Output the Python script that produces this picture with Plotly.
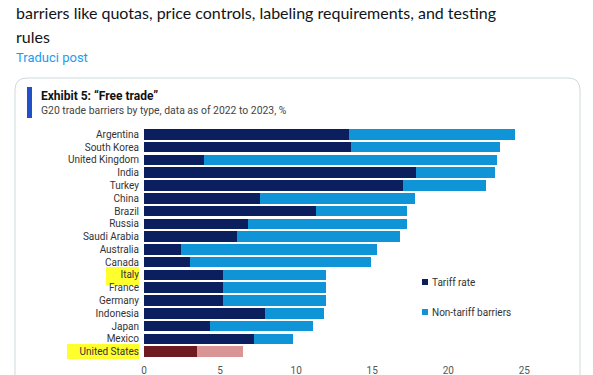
import plotly.graph_objects as go

countries = ["Argentina", "South Korea", "United Kingdom", "India", "Turkey", "China", "Brazil",
             "Russia", "Saudi Arabia", "Australia", "Canada", "Italy", "France", "Germany",
             "Indonesia", "Japan", "Mexico", "United States"]
tariff_rate = [13.5, 13.6, 3.95, 17.9, 17.0, 7.6, 11.3, 6.85, 6.1, 2.4, 3.0, 5.2, 5.2, 5.2, 7.95, 4.35, 7.2, 3.5]
total_barriers = [24.4, 23.4, 23.2, 23.1, 22.5, 17.8, 17.3, 17.3, 16.8, 15.3, 14.9, 11.95, 11.95, 11.95, 11.8, 11.1, 9.8, 6.5]
non_tariff = [round(t - r, 2) for t, r in zip(total_barriers, tariff_rate)]
x_ticks = [0, 5, 10, 15, 20, 25]
legend_labels = ["Tariff rate", "Non-tariff barriers"]

W, H = 593, 375
L, R, T, B = 144, 23, 128, 17
PW, PH = W - L - R, H - T - B

def px(x):
    return (x - L) / PW

def py(y):
    return 1 - (y - T) / PH

NAVY, BLUE = "#0b1f5e", "#0f94d8"
tariff_colors = [NAVY] * len(countries)
nontariff_colors = [BLUE] * len(countries)
tariff_colors[-1] = "#6e1b1f"
nontariff_colors[-1] = "#d99596"

fig = go.Figure()
fig.add_trace(go.Bar(y=countries, x=tariff_rate, orientation="h", name=legend_labels[0],
                     marker=dict(color=tariff_colors, line=dict(width=0)), showlegend=False))
fig.add_trace(go.Bar(y=countries, x=non_tariff, orientation="h", name=legend_labels[1],
                     marker=dict(color=nontariff_colors, line=dict(width=0)), showlegend=False))

cfont = "Roboto, sans-serif"
shapes = []
r = 12
x0, x1, y0, y1 = 15, 580, 78, 380
path = (f"M {px(x0)},{py(y1)} L {px(x0)},{py(y0 + r)} Q {px(x0)},{py(y0)} {px(x0 + r)},{py(y0)} "
        f"L {px(x1 - r)},{py(y0)} Q {px(x1)},{py(y0)} {px(x1)},{py(y0 + r)} L {px(x1)},{py(y1)}")
shapes.append(dict(type="path", xref="paper", yref="paper", path=path,
                   line=dict(color="#cfd9de", width=1), layer="below"))
shapes.append(dict(type="rect", xref="paper", yref="paper", x0=px(27), x1=px(32), y0=py(118), y1=py(87),
                   fillcolor="#2150c8", line=dict(width=0)))
shapes.append(dict(type="rect", xref="paper", yref="paper", x0=px(106), x1=px(139), y0=py(285), y1=py(267),
                   fillcolor="#ffff2e", line=dict(width=0), layer="below"))
shapes.append(dict(type="rect", xref="paper", yref="paper", x0=px(67), x1=px(139), y0=py(359), y1=py(344),
                   fillcolor="#ffff2e", line=dict(width=0), layer="below"))

def ann(text, x, y, size, color, family, anchor="left"):
    return dict(text=text, xref="paper", yref="paper", x=px(x), y=py(y), xanchor=anchor,
                yanchor="middle", showarrow=False, font=dict(family=family, size=size, color=color))

annotations = [
    ann("barriers like quotas, price controls, labeling requirements, and testing", 14, 12, 16,
        "#0f1419", "Lato, sans-serif"),
    ann("rules", 14, 36, 16, "#0f1419", "Lato, sans-serif"),
    ann("Traduci post", 14, 57, 13, "#1d9bf0", "Roboto, sans-serif"),
    ann("<b>Exhibit 5: \u201cFree trade\u201d</b>", 39, 96, 12, "#111111", cfont),
    ann("G20 trade barriers by type, data as of 2022 to 2023, %", 39, 110, 10.4, "#444444", cfont),
]

for i, (lab, col) in enumerate(zip(legend_labels, [NAVY, BLUE])):
    yc = 282 + 30 * i
    shapes.append(dict(type="rect", xref="paper", yref="paper", x0=px(422), x1=px(428),
                       y0=py(yc + 3), y1=py(yc - 3), fillcolor=col, line=dict(width=0)))
    annotations.append(ann(lab, 430, yc, 10, "#333333", cfont))

fig.update_layout(
    width=W, height=H, barmode="stack", bargap=0.18,
    margin=dict(l=L, r=R, t=T, b=B, autoexpand=False),
    paper_bgcolor="white", plot_bgcolor="white",
    xaxis=dict(range=[0, 28], tickvals=x_ticks, showgrid=False, zeroline=False, showline=False,
               automargin=False, ticklabelstandoff=5,
               tickfont=dict(family=cfont, size=10, color="#555555"), ticks=""),
    yaxis=dict(autorange="reversed", showgrid=False, ticks="", ticklabelstandoff=4, automargin=False,
               dtick=1, tickmode="linear",
               tickfont=dict(family=cfont, size=10, color="#333333")),
    shapes=shapes, annotations=annotations, showlegend=False,
)

fig.write_html("out.html", config={"displayModeBar": False},
               post_script="document.body.style.margin='0';document.body.style.overflow='hidden';")
